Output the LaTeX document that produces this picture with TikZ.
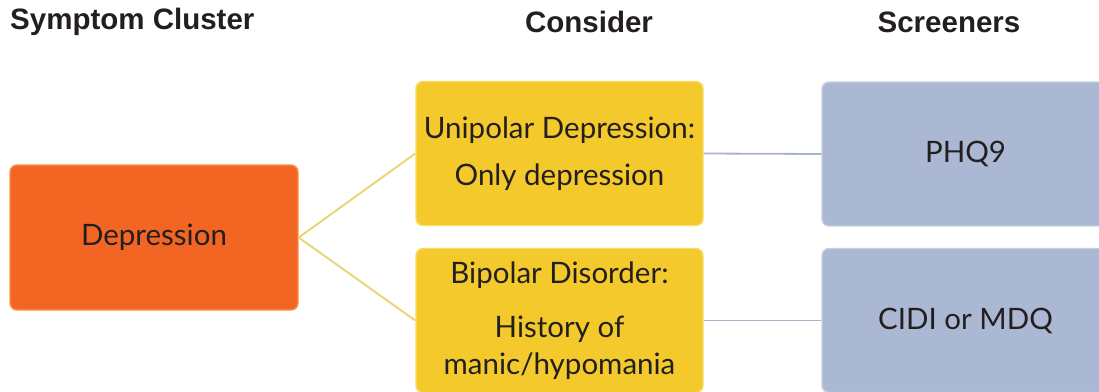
\documentclass[tikz,border=0pt]{standalone}
\usepackage{fontspec}
\setmainfont{Lato}
\newfontfamily\headfont{Liberation Sans}
\definecolor{orangebox}{HTML}{F26522}
\definecolor{orangeedge}{HTML}{F7924F}
\definecolor{yellowbox}{HTML}{F3C92B}
\definecolor{yellowedge}{HTML}{F8DC62}
\definecolor{bluebox}{HTML}{ABB8D4}
\definecolor{blueedge}{HTML}{C6D0E4}
\definecolor{yline}{HTML}{E9D36C}
\definecolor{bline}{HTML}{A8B3CE}
\definecolor{txt}{HTML}{231F20}
\tikzset{
  box/.style={rectangle, rounded corners=7pt, minimum width=287pt, minimum height=144pt,
    align=center, text=txt, font=\fontsize{29.5}{37}\selectfont, line width=1.4pt, inner sep=0pt},
  obox/.style={box, fill=orangebox, draw=orangeedge, minimum width=288pt, minimum height=145pt},
  ybox/.style={box, fill=yellowbox, draw=yellowedge},
  bbox/.style={box, fill=bluebox, draw=blueedge},
  head/.style={font=\headfont\bfseries\fontsize{29.5}{31}\selectfont, text=txt, inner sep=0pt},
  yconn/.style={draw=yline, line width=1.8pt},
  bconn/.style={draw=bline, line width=1.8pt}
}
\begin{document}
\begin{tikzpicture}[x=1pt, y=-1pt]
\useasboundingbox (0,0) rectangle (1099,391);
\clip (0,0) rectangle (1099,391);
\fill[white] (0,0) rectangle (1099,391);
% headers
\node[head, anchor=west] (h1) at (10,22) {Symptom Cluster};
\node[head] (h2) at (589,22) {Consider};
\node[head] (h3) at (949,22) {Screeners};
% boxes
\node[obox] (dep) at (154,237.5) {Depression};
\node[ybox] (uni) at (559.5,153.5) {Unipolar Depression:\\[10pt]Only depression};
\node[ybox] (bip) at (559.5,320.5) {Bipolar Disorder:\\[17pt]History of\\manic/hypomania};
\node[bbox] (phq) at (965.5,154) {PHQ9};
\node[bbox] (cid) at (965.5,320.5) {CIDI or MDQ};
% connectors
\draw[yconn] (dep.east) -- (uni.west);
\draw[yconn] (dep.east) -- (bip.west);
\draw[bconn] (uni.east) -- (phq.west);
\draw[bconn] (bip.east) -- (cid.west);
\end{tikzpicture}
\end{document}
